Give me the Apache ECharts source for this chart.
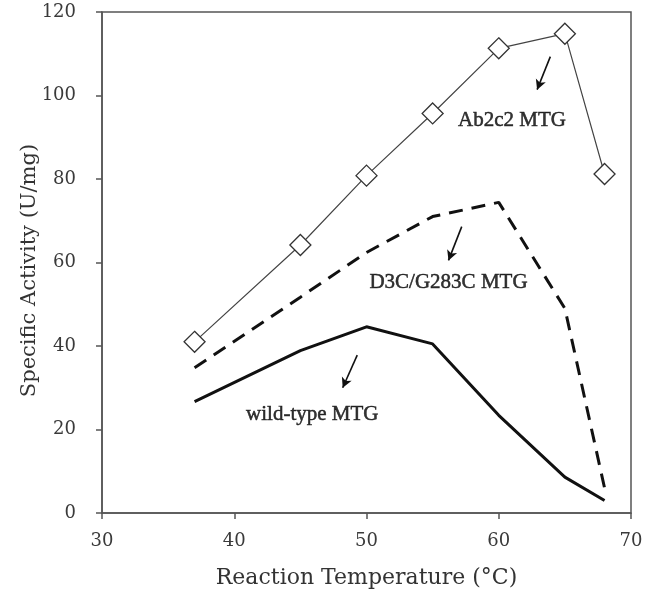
<!DOCTYPE html>
<html>
<head>
<meta charset="utf-8">
<script src="https://cdn.jsdelivr.net/npm/echarts@6/dist/echarts.min.js"></script>
<style>html,body{margin:0;padding:0;background:#fff;}#c{width:646px;height:597px;}</style>
</head>
<body>
<div id="c"></div>
<script>
const temperatures = [37, 45, 50, 55, 60, 65, 68];
const ab2c2 = [41, 64.2, 80.8, 95.7, 111.3, 114.8, 81.2];
const d3c = [34.8, 51.7, 62.4, 71, 74.4, 49, 6];
const wildType = [26.7, 38.9, 44.6, 40.5, 23.4, 8.6, 3];
const xTicks = [30, 40, 50, 60, 70];
const yTicks = [0, 20, 40, 60, 80, 100, 120];
const labels = [
  {text: 'Ab2c2 MTG', x: 61.0, y: 94.0},
  {text: 'D3C/G283C MTG', x: 56.2, y: 55.3},
  {text: 'wild-type MTG', x: 45.9, y: 23.5}
];
const arrows = [
  [[63.9, 109.3], [62.9, 101.4]],
  [[57.2, 68.6], [56.2, 60.5]],
  [[49.3, 37.8], [48.2, 30.0]]
];

const pair = (xs, ys) => xs.map((x, i) => [x, ys[i]]);
const axisFont = 'DejaVu Serif';
const chart = echarts.init(document.getElementById('c'));
chart.setOption({
  animation: false,
  backgroundColor: '#fff',
  grid: {left: 102, right: 15, top: 12, bottom: 84, show: true, borderColor: '#555', borderWidth: 1.5, backgroundColor: 'transparent'},
  xAxis: {
    type: 'value', min: xTicks[0], max: xTicks[xTicks.length - 1], interval: 10,
    name: 'Reaction Temperature (°C)', nameLocation: 'middle', nameGap: 54,
    nameTextStyle: {fontFamily: axisFont, fontSize: 22, color: '#333'},
    axisLine: {lineStyle: {color: '#555', width: 1.5}},
    axisTick: {show: true, inside: false, length: 6, lineStyle: {color: '#555', width: 1.5}},
    axisLabel: {fontFamily: axisFont, fontSize: 18, color: '#3a3a3a', margin: 19},
    splitLine: {show: false}
  },
  yAxis: {
    type: 'value', min: yTicks[0], max: yTicks[yTicks.length - 1], interval: 20,
    name: 'Specific Activity (U/mg)', nameLocation: 'middle', nameGap: 62,
    nameMoveOverlap: false,
    nameTextStyle: {fontFamily: axisFont, fontSize: 21, color: '#333', padding: [0, 16, 0, 0]},
    axisLine: {show: true, lineStyle: {color: '#555', width: 1.5}},
    axisTick: {show: true, inside: false, length: 6, lineStyle: {color: '#555', width: 1.5}},
    axisLabel: {fontFamily: axisFont, fontSize: 18, color: '#3a3a3a', margin: 26},
    splitLine: {show: false}
  },
  series: [
    {
      type: 'line', data: pair(temperatures, wildType), symbol: 'none',
      lineStyle: {color: '#111', width: 3}, z: 2
    },
    {
      type: 'line', data: pair(temperatures, d3c), symbol: 'none',
      lineStyle: {color: '#111', width: 3, type: [14, 9]}, z: 2
    },
    {
      type: 'line', data: pair(temperatures, ab2c2), symbol: 'diamond', symbolSize: 21,
      itemStyle: {color: '#fff', borderColor: '#333', borderWidth: 1.3},
      lineStyle: {color: '#444', width: 1.2}, z: 3,
      markLine: {
        silent: true, symbol: ['none', 'arrow'], symbolSize: [8, 10],
        lineStyle: {color: '#111', width: 1.6, type: 'solid'},
        label: {show: false},
        data: arrows.map(a => [{coord: a[0]}, {coord: a[1]}])
      }
    },
    {
      type: 'scatter', symbol: 'circle', symbolSize: 0.1,
      itemStyle: {color: '#000'},
      data: labels.map(l => ({value: [l.x, l.y], name: l.text})),
      label: {
        show: true, position: 'inside', formatter: p => p.name,
        fontFamily: 'Liberation Serif', fontSize: 21, color: '#000',
        textBorderWidth: 0.5, textBorderColor: '#000'
      },
      z: 4
    }
  ]
});
</script>
</body>
</html>
